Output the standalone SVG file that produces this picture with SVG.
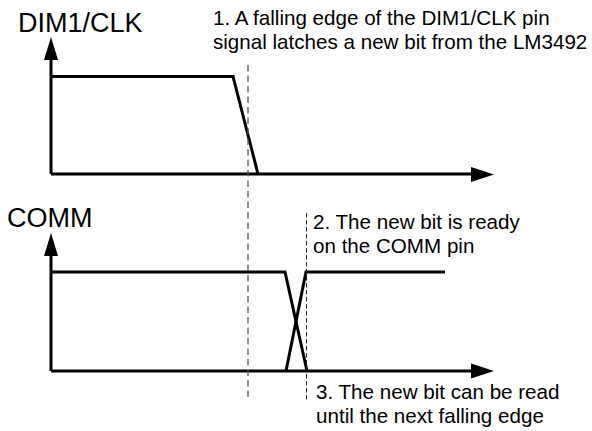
<svg xmlns="http://www.w3.org/2000/svg" width="592" height="431" viewBox="0 0 592 431">
<style>
  .sig { fill: none; stroke: #000; stroke-width: 3; stroke-linejoin: miter; }
  .axis { fill: none; stroke: #000; stroke-width: 3; }
  .title { font-family: "Liberation Sans", Arial, sans-serif; font-size: 27px; fill: #000; }
  .note { font-family: "Liberation Sans", Arial, sans-serif; font-size: 20.6px; fill: #000; }
  .dash1 { fill: none; stroke: #555; stroke-width: 1.3; stroke-dasharray: 6.5 4; }
  .dash2 { fill: none; stroke: #222; stroke-width: 1; stroke-dasharray: 4.5 2.5; }
  .head { fill: #000; }
</style>
<rect width="592" height="431" fill="#fff"/>
<g id="dimclk">
  <text class="title" x="18" y="32">DIM1/CLK</text>
  <line class="axis" x1="51" y1="174" x2="51" y2="58"/>
  <polygon class="head" points="51,37 44,60 58,60"/>
  <line class="axis" x1="51" y1="174" x2="472" y2="174"/>
  <polygon class="head" points="494,174.5 471,167 471,182"/>
  <polyline class="sig" points="51,76.5 233,76.5 258,174"/>
</g>
<g id="comm">
  <text class="title" x="7" y="227">COMM</text>
  <line class="axis" x1="51" y1="371" x2="51" y2="253"/>
  <polygon class="head" points="51,233 44,256 58,256"/>
  <line class="axis" x1="51" y1="371" x2="472" y2="371"/>
  <polygon class="head" points="494,371 471,363.5 471,378.5"/>
  <polyline class="sig" points="51,272 285,272 307,371"/>
  <polyline class="sig" points="286,371 306,272 445,272"/>
</g>
<g id="connectors">
  <line class="dash1" x1="248" y1="65" x2="248" y2="400"/>
  <line class="dash2" x1="306.5" y1="213" x2="306.5" y2="402"/>
</g>
<g id="note1">
  <text class="note" x="213" y="25">1. A falling edge of the DIM1/CLK pin</text>
  <text class="note" x="213" y="49">signal latches a new bit from the LM3492</text>
</g>
<g id="note2">
  <text class="note" x="313" y="229">2. The new bit is ready</text>
  <text class="note" x="313" y="253">on the COMM pin</text>
</g>
<g id="note3">
  <text class="note" x="316" y="399">3. The new bit can be read</text>
  <text class="note" x="316" y="423">until the next falling edge</text>
</g>
</svg>
